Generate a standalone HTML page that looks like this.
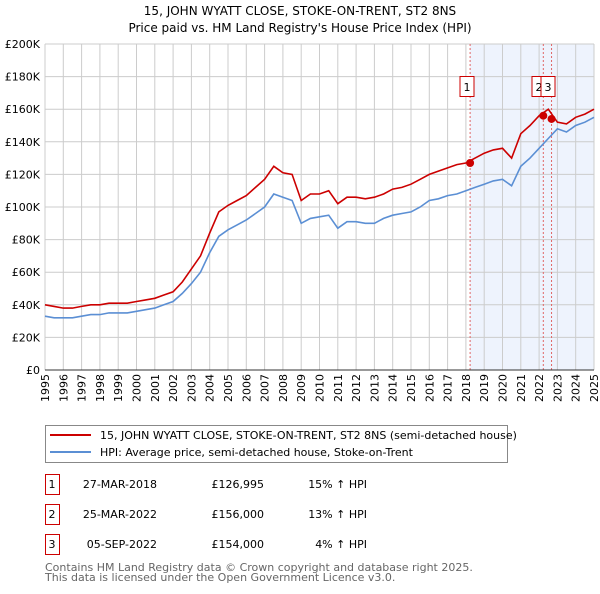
<!DOCTYPE html>
<html><head><meta charset="utf-8"><style>
body{margin:0;background:#fff;font-family:"DejaVu Sans","Liberation Sans",sans-serif;}
svg text{font-family:"DejaVu Sans","Liberation Sans",sans-serif;}
</style></head><body>
<svg id="c" width="600" height="590" viewBox="0 0 600 590" xmlns="http://www.w3.org/2000/svg">
<text x="300" y="15" text-anchor="middle" font-size="12">15, JOHN WYATT CLOSE, STOKE-ON-TRENT, ST2 8NS</text>
<text x="300" y="32" text-anchor="middle" font-size="12">Price paid vs. HM Land Registry's House Price Index (HPI)</text>
<g id="plot"></g>
<g>
<rect x="45.5" y="425.5" width="462" height="37" fill="#fff" stroke="#888"/>
<line x1="50" y1="435" x2="91" y2="435" stroke="#cc0000" stroke-width="2"/>
<text x="100" y="439" font-size="11">15, JOHN WYATT CLOSE, STOKE-ON-TRENT, ST2 8NS (semi-detached house)</text>
<line x1="50" y1="452" x2="91" y2="452" stroke="#5b8fd4" stroke-width="2"/>
<text x="100" y="456" font-size="11">HPI: Average price, semi-detached house, Stoke-on-Trent</text>
</g>
<g id="table" font-size="11"></g>
<text x="45" y="571" font-size="11" fill="#666">Contains HM Land Registry data © Crown copyright and database right 2025.</text>
<text x="45" y="581" font-size="11" fill="#666">This data is licensed under the Open Government Licence v3.0.</text>
</svg>
<script>
const years=[1995,1995.5,1996,1996.5,1997,1997.5,1998,1998.5,1999,1999.5,2000,2000.5,2001,2001.5,2002,2002.5,2003,2003.5,2004,2004.5,2005,2005.5,2006,2006.5,2007,2007.5,2008,2008.5,2009,2009.5,2010,2010.5,2011,2011.5,2012,2012.5,2013,2013.5,2014,2014.5,2015,2015.5,2016,2016.5,2017,2017.5,2018,2018.5,2019,2019.5,2020,2020.5,2021,2021.5,2022,2022.5,2023,2023.5,2024,2024.5,2025];
const hpi=[33,32,32,32,33,34,34,35,35,35,36,37,38,40,42,47,53,60,72,82,86,89,92,96,100,108,106,104,90,93,94,95,87,91,91,90,90,93,95,96,97,100,104,105,107,108,110,112,114,116,117,113,125,130,136,142,148,146,150,152,155];
const price=[40,39,38,38,39,40,40,41,41,41,42,43,44,46,48,54,62,70,84,97,101,104,107,112,117,125,121,120,104,108,108,110,102,106,106,105,106,108,111,112,114,117,120,122,124,126,127,130,133,135,136,130,145,150,156,160,152,151,155,157,160];
const yTicks=[0,20,40,60,80,100,120,140,160,180,200];
const xTicks=[1995,1996,1997,1998,1999,2000,2001,2002,2003,2004,2005,2006,2007,2008,2009,2010,2011,2012,2013,2014,2015,2016,2017,2018,2019,2020,2021,2022,2023,2024,2025];
const saleIds=["1","2","3"];
const saleYears=[2018.23,2022.23,2022.68];
const saleValues=[126.995,156,154];
const saleDates=["27-MAR-2018","25-MAR-2022","05-SEP-2022"];
const salePrices=["£126,995","£156,000","£154,000"];
const saleHpi=["15% ↑ HPI","13% ↑ HPI","4% ↑ HPI"];

const NS="http://www.w3.org/2000/svg";
const X0=45,X1=594,Y0=370,Y1=44;
const xs=y=>X0+(y-1995)/30*(X1-X0);
const ys=v=>Y0-v/200*(Y0-Y1);
const plot=document.getElementById('plot');
function mk(t,a,p){const e=document.createElementNS(NS,t);for(const k in a)e.setAttribute(k,a[k]);(p||plot).appendChild(e);return e;}
let sh=mk('rect',{x:xs(saleYears[0]),y:Y1,width:X1-xs(saleYears[0]),height:Y0-Y1,fill:'#eef3fd'});


xTicks.forEach(t=>{let g=mk('line',{x1:xs(t),x2:xs(t),y1:Y1,y2:Y0,stroke:'#cccccc'});


const lx=xs(t)+4,ly=374;
let l=mk('text',{x:lx,y:ly,'text-anchor':'end','font-size':11,transform:'rotate(-90 '+lx+' '+ly+')'});l.textContent=t;

});
yTicks.forEach(t=>{let g=mk('line',{x1:X0,x2:X1,y1:ys(t),y2:ys(t),stroke:'#cccccc'});


let l=mk('text',{x:40,y:ys(t)+4,'text-anchor':'end','font-size':11});l.textContent='£'+t+(t?'K':'');

});
saleYears.forEach(s=>{let v=mk('line',{x1:xs(s),x2:xs(s),y1:Y1,y2:Y0,stroke:'#e06666','stroke-dasharray':'2,2'});

});
function line(arr,col,name){let d=arr.map((v,i)=>(i?'L':'M')+xs(years[i]).toFixed(1)+' '+ys(v).toFixed(1)).join('');
let p=mk('path',{d:d,fill:'none',stroke:col,'stroke-width':1.6});

}
line(hpi,'#5b8fd4','hpi-line');
line(price,'#cc0000','price-line');
saleYears.forEach((s,i)=>{let c=mk('circle',{cx:xs(s),cy:ys(saleValues[i]),r:4,fill:'#cc0000'});

});
const boxX=[467,539,548];
saleIds.forEach((id,i)=>{let r=mk('rect',{x:boxX[i]-7,y:76.5,width:14,height:20,fill:'#fff',stroke:'#cc0000'});


let t=mk('text',{x:boxX[i],y:91,'text-anchor':'middle','font-size':11});t.textContent=id;

});
mk('line',{x1:X0,x2:X1,y1:Y0,y2:Y0,stroke:'#333'});
const tb=document.getElementById('table');
saleIds.forEach((id,i)=>{const y=484+i*30;
let r=mk('rect',{x:45.5,y:y-9.5,width:14,height:20,fill:'#fff',stroke:'#cc0000'},tb);


const cells=[[52,id,'middle'],[157,saleDates[i],'end'],[264,salePrices[i],'end'],[367,saleHpi[i],'end']];
cells.forEach(c=>{let t=mk('text',{x:c[0],y:y+4,'text-anchor':c[2]},tb);t.textContent=c[1];

});});
</script>
</body></html>
